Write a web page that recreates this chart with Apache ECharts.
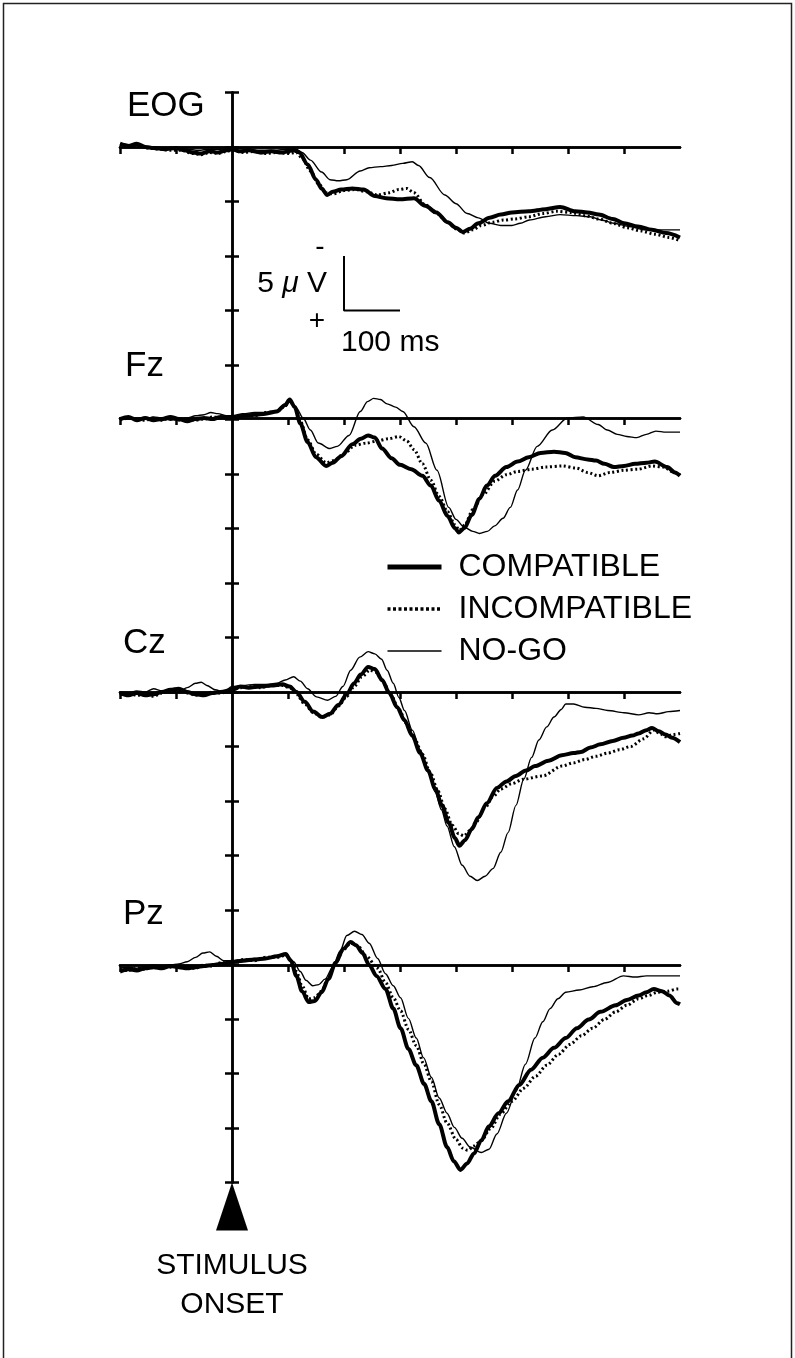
<!DOCTYPE html>
<html>
<head>
<meta charset="utf-8">
<title>ERP waveforms</title>
<script src="https://cdn.jsdelivr.net/npm/echarts@6/dist/echarts.min.js"></script>
<style>
  html, body { margin: 0; padding: 0; background: #fff; }
  #chart { width: 795px; height: 1358px; }
</style>
</head>
<body>
<div id="chart"></div>
<script>
// ---- Data: grand-average waveforms, [time in ms, amplitude in µV] (negative plotted up) ----
const CHANNELS = ['EOG', 'Fz', 'Cz', 'Pz'];
const CONDITIONS = ['COMPATIBLE', 'INCOMPATIBLE', 'NO-GO'];

const EOG_COMPATIBLE = [[-200,-0.3],[-185,-0.1],[-170,-0.3],[-155,0],[-140,0.1],[-120,0.2],[-100,0.1],[-85,0.3],[-70,0.5],[-55,0.6],[-40,0.4],[-25,0.5],[-10,0.3],[0,0.2],[15,0.4],[30,0.3],[50,0.5],[70,0.4],[90,0.5],[110,0.3],[120,0.5],[135,1.6],[150,3.0],[160,3.8],[170,4.4],[180,4.1],[195,3.9],[215,3.8],[235,3.9],[255,4.5],[275,4.7],[300,4.8],[325,4.7],[345,5.4],[365,6.0],[385,6.9],[400,7.4],[412,7.8],[425,7.5],[440,7.0],[460,6.5],[480,6.2],[500,6.0],[530,5.9],[560,5.7],[586,5.5],[613,5.9],[635,6.0],[655,6.2],[680,6.6],[700,7.0],[725,7.3],[750,7.6],[775,7.9],[800,8.3]];
const EOG_INCOMPATIBLE = [[-200,-0.2],[-185,0],[-170,-0.2],[-150,0.1],[-130,0.2],[-110,0.3],[-90,0.3],[-70,0.6],[-55,0.7],[-40,0.5],[-25,0.6],[-10,0.4],[0,0.3],[20,0.5],[40,0.4],[60,0.6],[80,0.5],[100,0.6],[115,0.5],[125,1.0],[140,2.2],[155,3.4],[168,4.2],[180,4.3],[200,4.0],[220,3.9],[240,4.1],[260,4.4],[280,4.2],[298,3.9],[312,3.8],[325,4.2],[345,5.3],[365,6.1],[385,6.9],[400,7.5],[415,7.9],[430,7.6],[445,7.2],[465,6.9],[485,6.7],[505,6.6],[530,6.4],[555,6.1],[580,5.9],[605,6.0],[630,6.3],[655,6.6],[680,7.0],[705,7.4],[730,7.7],[755,8.0],[780,8.3],[800,8.6]];
const EOG_NOGO = [[-200,-0.3],[-180,-0.2],[-160,-0.1],[-140,0],[-120,0.1],[-100,0.1],[-80,0.2],[-60,0.3],[-40,0.2],[-20,0.2],[0,0.1],[25,0.2],[50,0.3],[75,0.3],[100,0.2],[115,0.2],[125,0.5],[140,1.2],[160,2.3],[175,3.0],[190,3.1],[205,3.0],[229,2.2],[245,1.9],[265,1.8],[285,1.7],[305,1.5],[322,1.35],[333,1.7],[353,2.8],[380,4.4],[400,5.2],[420,6.1],[440,6.5],[460,7.0],[480,7.2],[500,7.2],[515,7.0],[531,6.7],[560,6.4],[586,6.2],[615,6.3],[640,6.4],[660,6.7],[682,7.0],[710,7.3],[736,7.6],[760,7.6],[800,7.6]];

const FZ_COMPATIBLE = [[-200,0.1],[-185,-0.1],[-170,0.2],[-155,0],[-140,0.2],[-125,0.1],[-110,-0.1],[-95,0.1],[-80,0.3],[-65,0.1],[-50,0],[-35,0.1],[-20,-0.1],[0,0],[20,-0.2],[40,-0.3],[60,-0.4],[80,-0.6],[95,-1.2],[103,-1.7],[112,-1.0],[122,0.5],[135,2.2],[150,3.6],[168,4.4],[180,4.1],[195,3.5],[215,2.4],[230,1.9],[243,1.6],[255,1.8],[268,2.8],[285,3.7],[300,4.3],[320,4.7],[340,5.3],[355,6.2],[370,7.6],[385,9.0],[398,10.1],[405,10.5],[415,10.1],[428,8.9],[442,7.4],[455,6.2],[470,5.3],[490,4.5],[510,4.0],[530,3.6],[551,3.2],[575,3.1],[595,3.2],[613,3.6],[635,3.8],[650,3.9],[665,4.2],[682,4.5],[700,4.4],[720,4.2],[740,4.1],[755,4.0],[777,4.5],[791,5.0],[800,5.3]];
const FZ_INCOMPATIBLE = [[-200,0.2],[-185,0],[-170,0.1],[-155,0.2],[-140,0],[-125,0.2],[-110,0],[-95,0.2],[-80,0.1],[-65,0.2],[-50,0.1],[-35,-0.1],[-20,0],[0,-0.1],[20,-0.3],[40,-0.2],[60,-0.5],[80,-0.6],[95,-1.1],[103,-1.6],[112,-1.0],[122,0.3],[135,2.0],[150,3.3],[168,4.1],[182,3.9],[200,3.3],[220,2.5],[240,2.3],[260,2.1],[280,1.9],[298,1.7],[312,2.1],[325,2.9],[340,4.2],[355,5.7],[370,7.2],[385,8.6],[398,9.8],[406,10.3],[416,9.8],[430,8.4],[449,7.0],[469,5.8],[490,5.2],[510,4.9],[535,4.7],[560,4.5],[590,4.4],[615,4.6],[635,5.0],[654,5.3],[675,5.0],[700,4.8],[725,4.7],[750,4.4],[770,4.5],[790,5.0],[800,5.2]];
const FZ_NOGO = [[-200,0],[-185,0.1],[-170,0],[-155,0.1],[-140,-0.1],[-125,0],[-110,0.2],[-95,0.1],[-80,0],[-65,-0.2],[-50,-0.3],[-38,-0.5],[-25,-0.4],[-10,-0.2],[0,-0.2],[20,-0.4],[40,-0.5],[60,-0.5],[80,-0.7],[95,-1.3],[103,-1.7],[115,-0.9],[127,0],[140,1.1],[154,2.3],[175,2.8],[188,2.6],[209,1.6],[229,-0.6],[242,-1.5],[253,-1.8],[265,-1.7],[277,-1.3],[292,-1.0],[305,-0.6],[325,0.8],[346,2.3],[366,4.8],[387,8.2],[400,9.3],[414,10.0],[430,10.4],[442,10.6],[456,10.4],[469,9.9],[484,9.2],[497,8.2],[510,6.6],[524,4.8],[545,2.6],[572,1.1],[599,0],[627,-0.1],[654,0.6],[670,1.1],[688,1.5],[705,1.7],[723,1.8],[740,1.5],[757,1.2],[775,1.3],[800,1.3]];

const CZ_COMPATIBLE = [[-200,0.1],[-185,0.3],[-170,0.1],[-155,0.3],[-140,0.2],[-125,0],[-110,-0.2],[-95,-0.3],[-80,0],[-65,0.2],[-50,0.3],[-35,0.1],[-20,0],[0,-0.2],[15,-0.5],[30,-0.4],[50,-0.5],[70,-0.6],[90,-0.7],[103,-0.5],[115,0],[130,0.9],[145,1.8],[161,2.3],[175,2.0],[190,1.2],[205,0.2],[218,-0.8],[230,-1.6],[243,-2.3],[255,-2.1],[268,-1.1],[281,0.1],[295,1.4],[308,2.6],[322,4.0],[336,5.6],[350,7.2],[363,8.9],[375,10.4],[387,12.0],[398,13.4],[406,14.1],[416,13.6],[428,12.6],[440,11.5],[455,10.2],[473,8.8],[490,8.2],[507,7.7],[525,7.2],[541,6.8],[565,6.3],[589,5.8],[610,5.6],[623,5.5],[640,5.1],[658,4.8],[680,4.5],[699,4.2],[715,4.0],[726,3.8],[740,3.5],[750,3.3],[762,3.6],[774,3.9],[786,4.2],[800,4.6]];
const CZ_INCOMPATIBLE = [[-200,0.2],[-185,0.1],[-170,0.3],[-155,0.2],[-140,0.4],[-125,0.1],[-110,-0.1],[-95,-0.2],[-80,0.1],[-65,0.3],[-50,0.2],[-35,0],[-20,0.1],[0,-0.2],[15,-0.4],[30,-0.5],[50,-0.4],[70,-0.6],[90,-0.6],[103,-0.4],[115,0.2],[130,1.1],[145,1.9],[160,2.3],[175,2.1],[190,1.3],[205,0.4],[218,-0.5],[232,-1.4],[246,-2.0],[258,-1.8],[270,-0.9],[284,0.3],[298,1.6],[312,2.9],[326,4.3],[340,5.7],[354,7.4],[368,9.1],[380,10.7],[393,12.2],[405,13.0],[414,13.2],[425,12.7],[435,12.0],[452,10.6],[466,9.6],[480,8.9],[500,8.4],[520,8.0],[555,7.7],[589,6.8],[610,6.5],[630,6.2],[650,5.9],[671,5.6],[692,5.3],[712,5.0],[735,4.3],[753,3.5],[764,3.8],[774,4.1],[788,3.9],[800,3.8]];
const CZ_NOGO = [[-200,0],[-185,0.1],[-170,-0.1],[-155,0],[-140,-0.3],[-125,-0.1],[-110,0.1],[-95,0],[-80,-0.4],[-65,-0.8],[-55,-0.9],[-45,-0.6],[-30,-0.2],[-15,0],[0,-0.5],[20,-0.6],[40,-0.7],[60,-0.7],[80,-0.8],[95,-1.1],[110,-1.4],[122,-1.0],[135,-0.3],[151,0.45],[171,0.75],[185,0.4],[198,-0.5],[212,-2.0],[228,-3.2],[243,-3.7],[255,-3.5],[267,-3.0],[277,-2.0],[288,-0.8],[298,0.5],[308,1.7],[322,3.5],[336,5.3],[350,7.2],[363,9.2],[374,10.8],[384,12.3],[397,14.2],[411,15.9],[425,16.9],[438,17.3],[452,16.9],[466,16.2],[480,14.7],[493,12.9],[507,10.4],[521,8.0],[535,6.0],[548,4.4],[562,3.2],[575,2.3],[588,1.6],[596,1.1],[610,1.1],[630,1.4],[650,1.5],[671,1.7],[700,1.9],[726,2.1],[745,1.9],[760,2.0],[780,1.8],[800,1.7]];

const PZ_COMPATIBLE = [[-200,0.6],[-185,0.4],[-170,0.5],[-155,0.3],[-140,0.2],[-125,0.3],[-110,0.1],[-95,0.2],[-80,0.3],[-65,0.2],[-50,0.1],[-35,0],[-20,-0.1],[0,-0.3],[20,-0.4],[40,-0.5],[60,-0.6],[80,-0.8],[96,-1.0],[105,-0.4],[115,1.0],[125,2.4],[137,3.4],[148,3.3],[160,2.5],[172,1.3],[185,-0.2],[199,-1.5],[212,-2.1],[222,-1.8],[233,-1.1],[245,0],[258,1.0],[274,2.2],[288,4.0],[301,5.8],[315,7.7],[329,9.2],[343,10.9],[356,12.5],[370,14.6],[384,16.7],[396,18.0],[408,18.8],[420,18.2],[432,17.3],[445,16.1],[459,14.8],[476,13.6],[493,12.5],[513,11.0],[534,9.6],[555,8.5],[575,7.6],[596,6.7],[616,5.8],[637,5.0],[658,4.3],[685,3.7],[705,3.2],[726,2.8],[740,2.5],[753,2.2],[768,2.4],[781,2.8],[795,3.5],[800,3.6]];
const PZ_INCOMPATIBLE = [[-200,0.5],[-185,0.5],[-170,0.3],[-155,0.4],[-140,0.1],[-125,0.2],[-110,0.2],[-95,0.1],[-80,0.2],[-65,0.3],[-50,0],[-35,0.1],[-20,-0.2],[0,-0.2],[20,-0.5],[40,-0.4],[60,-0.7],[80,-0.7],[96,-0.9],[105,-0.5],[115,0.6],[125,1.9],[137,3.1],[148,3.0],[160,2.4],[172,1.2],[185,-0.2],[199,-1.4],[212,-2.0],[224,-1.8],[240,-0.8],[260,0.3],[274,1.6],[288,3.0],[301,4.2],[315,5.9],[329,7.4],[343,9.1],[356,10.7],[370,12.8],[384,14.5],[400,16.0],[412,16.8],[421,17.0],[432,16.6],[445,16.1],[462,15.0],[479,13.7],[500,12.5],[521,11.3],[542,10.2],[562,9.2],[583,8.2],[603,7.3],[624,6.5],[644,5.8],[665,5.0],[685,4.3],[705,3.7],[726,3.1],[743,2.8],[760,2.5],[778,2.4],[795,2.2],[800,2.2]];
const PZ_NOGO = [[-200,0.3],[-185,0.2],[-170,0.3],[-155,0.1],[-140,0],[-125,0.1],[-110,0],[-95,-0.1],[-80,-0.3],[-65,-0.7],[-52,-1.1],[-40,-1.2],[-28,-0.8],[-15,-0.4],[0,-0.4],[20,-0.5],[40,-0.6],[60,-0.6],[80,-0.8],[96,-0.9],[110,-0.3],[122,0.6],[132,1.4],[144,1.9],[155,1.8],[166,1.3],[180,0.2],[193,-1.3],[205,-2.7],[219,-3.1],[232,-2.8],[245,-2.0],[260,-0.6],[274,0.8],[288,1.9],[301,3.0],[315,4.9],[329,6.7],[342,8.5],[356,10.3],[370,12.2],[384,13.6],[397,14.9],[411,15.9],[425,16.7],[445,17.2],[459,16.9],[473,15.5],[490,13.6],[507,11.6],[524,9.1],[541,6.7],[555,5.2],[568,4.0],[582,3.1],[596,2.5],[620,2.3],[644,2.0],[670,1.6],[699,1.0],[720,1.1],[740,1.0],[770,1.0],[800,1.0]];

const WAVES = {
  EOG: [EOG_COMPATIBLE, EOG_INCOMPATIBLE, EOG_NOGO],
  Fz:  [FZ_COMPATIBLE, FZ_INCOMPATIBLE, FZ_NOGO],
  Cz:  [CZ_COMPATIBLE, CZ_INCOMPATIBLE, CZ_NOGO],
  Pz:  [PZ_COMPATIBLE, PZ_INCOMPATIBLE, PZ_NOGO]
};

// Axis ranges (ms and µV)
const TIME_MIN = -200, TIME_MAX = 800, TIME_STEP = 100;
const TIME_TICKS = [-200, -100, 100, 200, 300, 400, 500, 600, 700];
const PANEL_UV_MIN = -5, PANEL_UV_MAX = 20;
const ONSET_UV_MIN = -5, ONSET_UV_MAX = 95, UV_STEP = 5;
// Calibration bar: 100 ms by 5 µV
const SCALE_BAR_MS = [200, 300];
const SCALE_BAR_UV = [10, 15];
const SCALE_LABELS = ['5 ', 'μ', ' V', '100 ms', '-', '+'];

// ---- Layout ----
const W = 795, H = 1358;
const PLOT_LEFT = 120, PLOT_WIDTH = 560;
const PX_PER_UV = 10.9;
const BASELINE_Y = [147, 418, 692, 965];
const LABEL_POS = [[127, 106], [125, 366], [123, 643], [123, 914]];
const FONT = "'Liberation Sans', Arial, Helvetica, sans-serif";

const LINE_STYLES = {
  'COMPATIBLE':   { color: '#000', width: 4,   type: 'solid' },
  'INCOMPATIBLE': { color: '#000', width: 3,   type: [2, 2.6] },
  'NO-GO':        { color: '#000', width: 1.4, type: 'solid' }
};

const grids = [], xAxes = [], yAxes = [], series = [];

CHANNELS.forEach((ch, i) => {
  grids.push({
    left: PLOT_LEFT, width: PLOT_WIDTH,
    top: BASELINE_Y[i] - (0 - PANEL_UV_MIN) * PX_PER_UV,
    height: (PANEL_UV_MAX - PANEL_UV_MIN) * PX_PER_UV
  });
  // time axis on the zero line, ticks crossing it (one axis draws them below, one above)
  [false, true].forEach(inside => {
    xAxes.push({
      type: 'value', gridIndex: i, min: TIME_MIN, max: TIME_MAX, interval: TIME_STEP,
      axisLine: { show: true, onZero: true, onZeroAxisIndex: i, lineStyle: { color: '#000', width: 2.5 } },
      axisTick: { show: true, inside: inside, length: 7, customValues: TIME_TICKS, lineStyle: { color: '#000', width: 2.5 } },
      axisLabel: { show: false }, splitLine: { show: false }
    });
  });
  yAxes.push({
    type: 'value', gridIndex: i, inverse: true, min: PANEL_UV_MIN, max: PANEL_UV_MAX,
    show: false, splitLine: { show: false }
  });
  CONDITIONS.forEach((cond, k) => {
    series.push({
      type: 'line', name: cond, xAxisIndex: 2 * i, yAxisIndex: i,
      data: WAVES[ch][k], symbol: 'none', showSymbol: false,
      smooth: 0.3, smoothMonotone: 'x',
      itemStyle: { color: '#000' },
      lineStyle: LINE_STYLES[cond], z: 3 + k, silent: true
    });
  });
});

// Full-height vertical axis at stimulus onset
const ONSET_GRID = CHANNELS.length;
grids.push({
  left: PLOT_LEFT, width: PLOT_WIDTH,
  top: BASELINE_Y[0] - (0 - ONSET_UV_MIN) * PX_PER_UV,
  height: (ONSET_UV_MAX - ONSET_UV_MIN) * PX_PER_UV
});
const ONSET_X_AXIS = xAxes.length;
xAxes.push({ type: 'value', gridIndex: ONSET_GRID, min: TIME_MIN, max: TIME_MAX, show: false });
[false, true].forEach(inside => {
  yAxes.push({
    type: 'value', gridIndex: ONSET_GRID, inverse: true, position: 'left',
    min: ONSET_UV_MIN, max: ONSET_UV_MAX, interval: UV_STEP,
    axisLine: { show: true, onZero: true, onZeroAxisIndex: ONSET_X_AXIS, lineStyle: { color: '#000', width: 2.5 } },
    axisTick: { show: true, inside: inside, length: 7, lineStyle: { color: '#000', width: 2.5 } },
    axisLabel: { show: false }, splitLine: { show: false }
  });
});
const ONSET_Y_AXIS = yAxes.length - 2;

// Calibration bar drawn in the EOG panel's scale
series.push({
  type: 'line', name: 'calibration', xAxisIndex: 0, yAxisIndex: 0,
  data: [[SCALE_BAR_MS[0], SCALE_BAR_UV[0]], [SCALE_BAR_MS[0], SCALE_BAR_UV[1]], [SCALE_BAR_MS[1], SCALE_BAR_UV[1]]],
  symbol: 'none', showSymbol: false, lineStyle: { color: '#000', width: 2 }, silent: true
});

const chart = echarts.init(document.getElementById('chart'), null, { renderer: 'canvas', width: W, height: H });
chart.setOption({
  animation: false,
  backgroundColor: '#fff',
  grid: grids, xAxis: xAxes, yAxis: yAxes, series: series,
  legend: {
    orient: 'vertical', left: 385, top: 551, padding: 0,
    itemWidth: 54, itemHeight: 32, itemGap: 10, selectedMode: false,
    itemStyle: { opacity: 0, color: 'rgba(0,0,0,0)', borderWidth: 0 },
    data: [
      { name: 'COMPATIBLE', lineStyle: { width: 5, color: '#000' } },
      { name: 'INCOMPATIBLE', lineStyle: { width: 3.5, type: [3, 2.5], color: '#000' } },
      { name: 'NO-GO', lineStyle: { width: 1.5, color: '#000' } }
    ],
    textStyle: { color: '#000', fontSize: 32, fontFamily: FONT, lineHeight: 32, padding: [0, 0, 0, 12] }
  }
});

// ---- Annotations positioned from the axis scales ----
const toPx = (xi, yi, p) => chart.convertToPixel({ xAxisIndex: xi, yAxisIndex: yi }, p);
const textEl = (x, y, text, size, align) => ({
  type: 'text', x: x, y: y, silent: true,
  style: { text: text, fill: '#000', font: size + 'px ' + FONT,
           align: align || 'left', textAlign: align || 'left',
           verticalAlign: 'middle', textVerticalAlign: 'middle' }
});

const graphic = [];
// outer frame (its lower edge falls outside the page)
graphic.push({
  type: 'rect', silent: true, z: -1,
  shape: { x: 3.5, y: 3.5, width: W - 7, height: H + 10 },
  style: { fill: 'none', stroke: '#222', lineWidth: 1.5 }
});
CHANNELS.forEach((ch, i) => graphic.push(textEl(LABEL_POS[i][0], LABEL_POS[i][1], ch, 35)));

// calibration labels
const barTop = toPx(0, 0, [SCALE_BAR_MS[0], SCALE_BAR_UV[0]]);
const barCorner = toPx(0, 0, [SCALE_BAR_MS[0], SCALE_BAR_UV[1]]);
graphic.push({
  type: 'text', x: barCorner[0] - 17, y: (barTop[1] + barCorner[1]) / 2, silent: true,
  style: {
    text: '{n|' + SCALE_LABELS[0] + '}{m|' + SCALE_LABELS[1] + '}{n|' + SCALE_LABELS[2] + '}',
    align: 'right', textAlign: 'right', verticalAlign: 'middle', textVerticalAlign: 'middle',
    rich: {
      n: { fontSize: 30, fontFamily: FONT, fill: '#000', color: '#000' },
      m: { fontSize: 30, fontFamily: FONT, fontStyle: 'italic', fill: '#000', color: '#000' }
    }
  }
});
graphic.push(textEl(barCorner[0] - 3, barCorner[1] + 32, SCALE_LABELS[3], 30));
graphic.push(textEl(barCorner[0] - 24, barTop[1] - 9, SCALE_LABELS[4], 28, 'center'));
graphic.push(textEl(barCorner[0] - 27, barCorner[1] + 11, SCALE_LABELS[5], 28, 'center'));

// stimulus onset marker at the foot of the vertical axis
const tip = toPx(ONSET_X_AXIS, ONSET_Y_AXIS, [0, ONSET_UV_MAX]);
graphic.push({
  type: 'polygon', silent: true,
  shape: { points: [[tip[0], tip[1]], [tip[0] - 16, tip[1] + 48], [tip[0] + 16, tip[1] + 48]] },
  style: { fill: '#000' }
});
graphic.push(textEl(tip[0], tip[1] + 83, 'STIMULUS', 30, 'center'));
graphic.push(textEl(tip[0], tip[1] + 122, 'ONSET', 30, 'center'));

chart.setOption({ graphic: graphic });
</script>
</body>
</html>
